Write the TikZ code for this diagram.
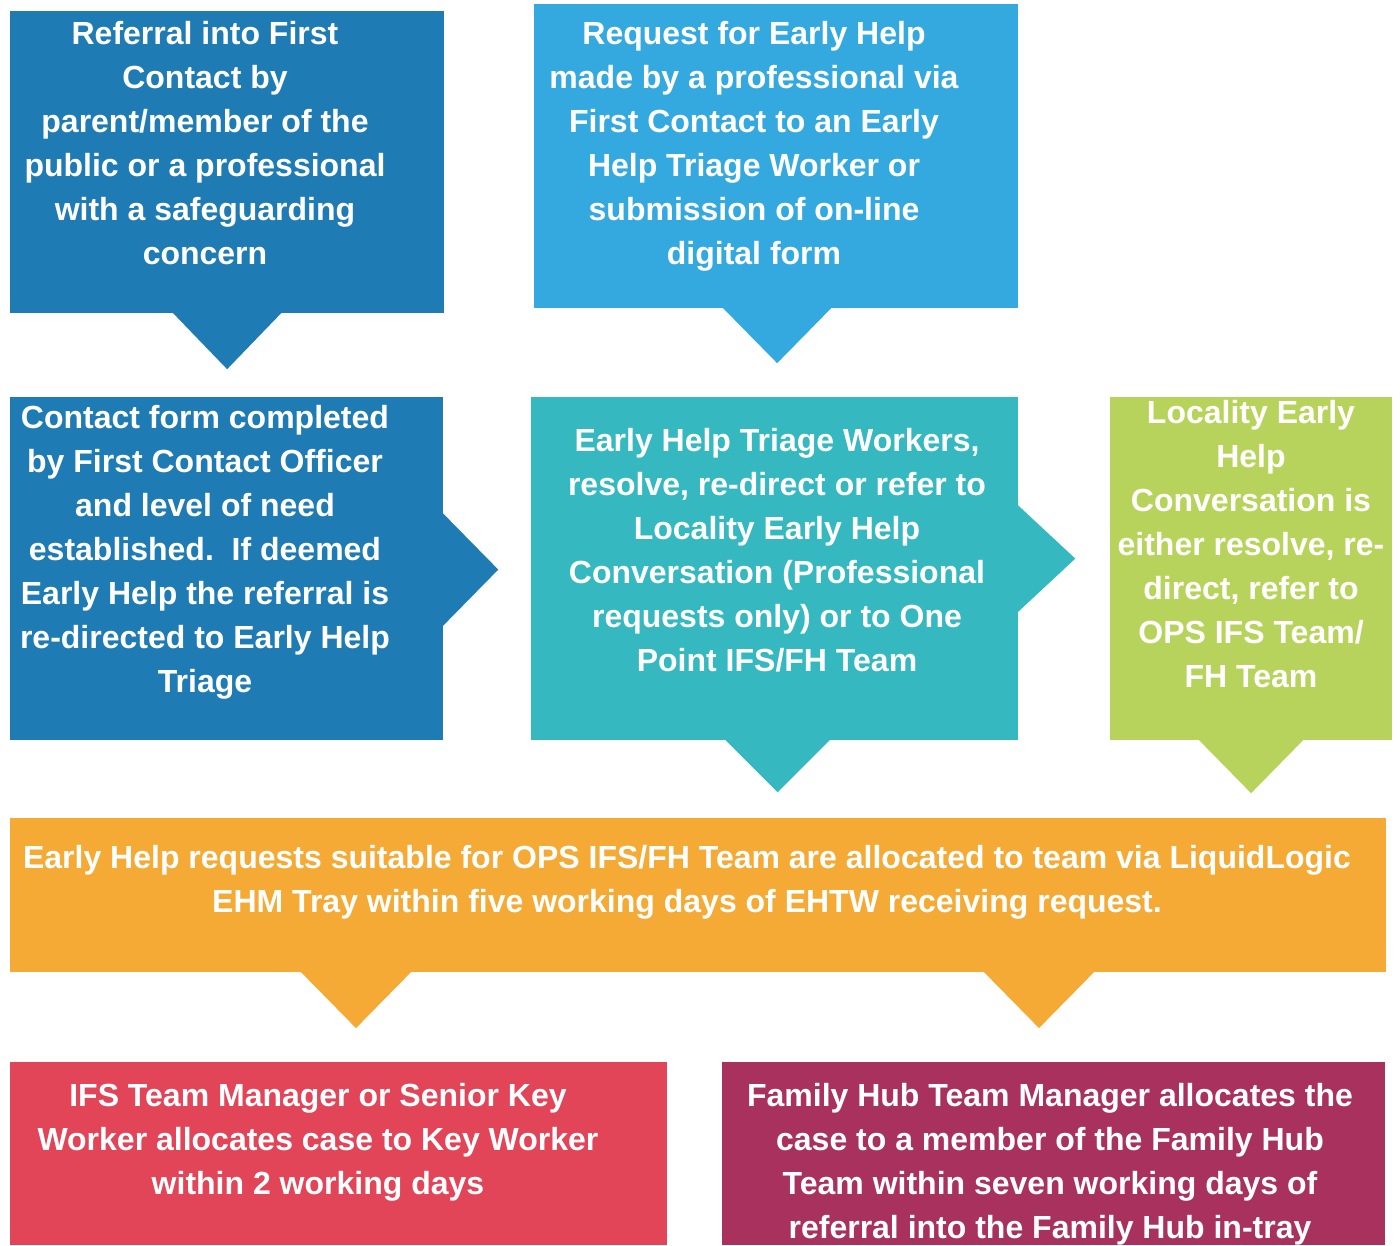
\documentclass[tikz,border=0pt]{standalone}
\usepackage{fontspec}
\setmainfont{Liberation Sans}
\usepackage{xcolor}
\usepackage{tikz}
\usetikzlibrary{positioning, calc}

\definecolor{contactblue}{HTML}{1F7BB4}
\definecolor{requestblue}{HTML}{34A9E0}
\definecolor{triageteal}{HTML}{35B8BF}
\definecolor{localitygreen}{HTML}{B8D35B}
\definecolor{allocorange}{HTML}{F5AA35}
\definecolor{ifsred}{HTML}{E24458}
\definecolor{hubpurple}{HTML}{A8325D}

\begin{document}
\begin{tikzpicture}[
    % one unit = one pixel of the page, y running downwards
    x=0.01cm, y=-0.01cm,
    box/.style 2 args={
        rectangle, inner sep=0pt, outer sep=0pt, anchor=north west,
        minimum width=#1, minimum height=#2
    },
    txt/.style={
        align=center, text=white, inner sep=0pt,
        font=\fontsize{9.1}{12.5}\selectfont\bfseries
    }
]
\useasboundingbox (0,0) rectangle (1400,1245);

% 1. Top row: the two ways in
\node[box={4.34cm}{3.02cm}, fill=contactblue] (referral) at (10,11) {};
\node[box={4.84cm}{3.04cm}, fill=requestblue] (request) at (534,4) {};

\node[txt] (referral-txt) at (205,143) {
    Referral into First \\ Contact by \\ parent/member of the \\
    public or a professional \\ with a safeguarding \\ concern
};
\node[txt] (request-txt) at (754,146) {
    Request for Early Help \\ made by a professional via \\
    First Contact to an Early \\ Help Triage Worker or \\
    submission of on-line \\ digital form
};

% pointers start one unit inside their box so no seam shows
\fill[contactblue] ($(referral.south)+(-55,-1)$) -- ++(55,57) -- ++(55,-57) -- cycle;
\fill[requestblue] ($(request.south)+(-54,-1)$) -- ++(55,56) -- ++(55,-56) -- cycle;

% 2. Middle row: contact form, triage, locality conversation
\node[box={4.33cm}{3.43cm}, fill=contactblue] (contact) at (10,397) {};
\node[box={4.87cm}{3.43cm}, fill=triageteal] (triage) at (531,397) {};
\node[box={2.82cm}{3.43cm}, fill=localitygreen] (locality) at (1110,397) {};

\node[txt] (contact-txt) at (205,552) {
    Contact form completed \\ by First Contact Officer \\ and level of need \\
    established.\ \ If deemed \\ Early Help the referral is \\
    re-directed to Early Help \\ Triage
};
\node[txt] (triage-txt) at (777,550) {
    Early Help Triage Workers, \\ resolve, re-direct or refer to \\
    Locality Early Help \\ Conversation (Professional \\
    requests only) or to One \\ Point IFS/FH Team
};
\node[txt] (locality-txt) at (1251,544) {
    Locality Early \\ Help \\ Conversation is \\ either resolve, re- \\
    direct, refer to \\ OPS IFS Team/ \\ FH Team
};

\fill[contactblue] ($(contact.east)+(-1,-56)$) -- ++(56,57) -- ++(-56,57) -- cycle;
\fill[triageteal] ($(triage.east)+(-1,-64)$) -- ++(58,54) -- ++(-58,54) -- cycle;
\fill[triageteal] ($(triage.south)+(-50,-1)$) -- ++(53,53) -- ++(53,-53) -- cycle;
\fill[localitygreen] ($(locality.south)+(-53,-1)$) -- ++(53,54) -- ++(53,-54) -- cycle;

% 3. Allocation bar across the page
\node[box={13.75cm}{1.54cm}, fill=allocorange] (allocate) at (10,818) {};
\node[txt] (allocate-txt) at (687,882) {
    Early Help requests suitable for OPS IFS/FH Team are allocated to team via LiquidLogic \\
    EHM Tray within five working days of EHTW receiving request.
};

\fill[allocorange] ($(allocate.south west)+(290,-1)$) -- ++(56,57) -- ++(56,-57) -- cycle;
\fill[allocorange] ($(allocate.south west)+(973,-1)$) -- ++(56,57) -- ++(56,-57) -- cycle;

% 4. Bottom row: the two teams
\node[box={6.57cm}{1.83cm}, fill=ifsred] (ifs) at (10,1062) {};
\node[box={6.63cm}{1.83cm}, fill=hubpurple] (hub) at (722,1062) {};

\node[txt] (ifs-txt) at (318,1142) {
    IFS Team Manager or Senior Key \\ Worker allocates case to Key Worker \\
    within 2 working days
};
\node[txt] (hub-txt) at (1050,1164) {
    Family Hub Team Manager allocates the \\ case to a member of the Family Hub \\
    Team within seven working days of \\ referral into the Family Hub in-tray
};

\end{tikzpicture}
\end{document}
